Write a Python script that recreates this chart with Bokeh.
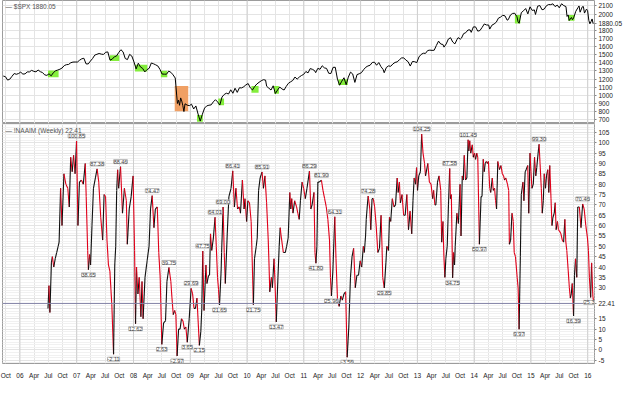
import numpy as np
import pandas as pd
from bokeh.plotting import figure
from bokeh.layouts import column
from bokeh.models import (FixedTicker, Span, Label, LabelSet, ColumnDataSource, Range1d,
                          CustomJSTickFormatter)
from bokeh.core.properties import value
from bokeh.embed import file_html
from bokeh.resources import INLINE

# ---------------- data ----------------
SPX_DATES = [
 "2005-09-16","2005-09-30","2005-10-14","2005-10-28","2005-11-11","2005-11-25","2005-12-09","2005-12-23",
 "2006-01-06","2006-01-20","2006-02-03","2006-02-17","2006-03-03","2006-03-17","2006-03-31","2006-04-14",
 "2006-04-28","2006-05-12","2006-05-26","2006-06-09","2006-06-23","2006-07-07","2006-07-21","2006-08-04",
 "2006-08-18","2006-09-01","2006-09-15","2006-09-29","2006-10-13","2006-10-27","2006-11-10","2006-11-24",
 "2006-12-08","2006-12-22","2007-01-05","2007-01-19","2007-02-02","2007-02-16","2007-03-02","2007-03-16",
 "2007-03-30","2007-04-13","2007-04-27","2007-05-11","2007-05-25","2007-06-08","2007-06-22","2007-07-06",
 "2007-07-20","2007-08-03","2007-08-17","2007-08-31","2007-09-14","2007-09-28","2007-10-12","2007-10-26",
 "2007-11-09","2007-11-23","2007-12-07","2007-12-21","2008-01-04","2008-01-18","2008-02-01","2008-02-15",
 "2008-02-29","2008-03-14","2008-03-28","2008-04-11","2008-04-25","2008-05-09","2008-05-23","2008-06-06",
 "2008-06-20","2008-07-03","2008-07-18","2008-08-01","2008-08-15","2008-08-29","2008-09-12","2008-09-26",
 "2008-10-10","2008-10-17","2008-10-24","2008-10-31","2008-11-07","2008-11-14","2008-11-21","2008-11-28",
 "2008-12-12","2008-12-26","2009-01-09","2009-01-23","2009-02-06","2009-02-20","2009-03-06","2009-03-20",
 "2009-04-03","2009-04-17","2009-05-01","2009-05-15","2009-05-29","2009-06-12","2009-06-26","2009-07-10",
 "2009-07-24","2009-08-07","2009-08-21","2009-09-04","2009-09-18","2009-10-02","2009-10-16","2009-10-30",
 "2009-11-13","2009-11-27","2009-12-11","2009-12-24","2010-01-08","2010-01-22","2010-02-05","2010-02-19",
 "2010-03-05","2010-03-19","2010-04-02","2010-04-16","2010-04-30","2010-05-07","2010-05-21","2010-06-04",
 "2010-06-18","2010-07-02","2010-07-16","2010-07-30","2010-08-13","2010-08-27","2010-09-10","2010-09-24",
 "2010-10-08","2010-10-22","2010-11-05","2010-11-19","2010-12-03","2010-12-17","2010-12-31","2011-01-14",
 "2011-01-28","2011-02-11","2011-02-25","2011-03-11","2011-03-18","2011-04-01","2011-04-15","2011-04-29",
 "2011-05-13","2011-05-27","2011-06-10","2011-06-24","2011-07-08","2011-07-22","2011-08-05","2011-08-19",
 "2011-09-02","2011-09-16","2011-09-30","2011-10-14","2011-10-28","2011-11-11","2011-11-25","2011-12-09",
 "2011-12-23","2012-01-06","2012-01-20","2012-02-03","2012-02-17","2012-03-02","2012-03-16","2012-03-30",
 "2012-04-13","2012-04-27","2012-05-11","2012-05-25","2012-06-01","2012-06-15","2012-06-29","2012-07-13",
 "2012-07-27","2012-08-10","2012-08-24","2012-09-07","2012-09-21","2012-10-05","2012-10-19","2012-11-02",
 "2012-11-16","2012-11-30","2012-12-14","2012-12-28","2013-01-11","2013-01-25","2013-02-08","2013-02-22",
 "2013-03-08","2013-03-22","2013-04-05","2013-04-19","2013-05-03","2013-05-17","2013-05-31","2013-06-14",
 "2013-06-21","2013-07-05","2013-07-19","2013-08-02","2013-08-16","2013-08-30","2013-09-13","2013-09-20",
 "2013-10-04","2013-10-11","2013-10-25","2013-11-08","2013-11-22","2013-12-06","2013-12-13","2013-12-27",
 "2014-01-10","2014-01-24","2014-02-07","2014-02-21","2014-03-07","2014-03-21","2014-04-04","2014-04-11",
 "2014-04-25","2014-05-09","2014-05-23","2014-06-06","2014-06-20","2014-07-03","2014-07-18","2014-08-01",
 "2014-08-08","2014-08-22","2014-09-05","2014-09-19","2014-10-03","2014-10-10","2014-10-17","2014-10-31",
 "2014-11-14","2014-11-28","2014-12-12","2014-12-26","2015-01-09","2015-01-23","2015-01-30","2015-02-13",
 "2015-02-27","2015-03-13","2015-03-27","2015-04-10","2015-04-24","2015-05-08","2015-05-22","2015-06-05",
 "2015-06-19","2015-07-02","2015-07-17","2015-07-31","2015-08-14","2015-08-21","2015-08-28","2015-09-04",
 "2015-09-18","2015-09-25","2015-10-02","2015-10-16","2015-10-30","2015-11-06","2015-11-13","2015-11-27",
 "2015-12-04","2015-12-11","2015-12-24","2015-12-31","2016-01-08","2016-01-15","2016-01-22","2016-01-29",
 "2016-02-05"]
SPX_CLOSE = [
 1237,1229,1187,1199,1234,1268,1259,1268,
 1285,1261,1264,1288,1288,1307,1295,1289,
 1311,1291,1280,1252,1245,1265,1240,1279,
 1302,1311,1321,1336,1366,1377,1380,1401,
 1409,1410,1409,1431,1449,1456,1387,1386,
 1421,1453,1495,1505,1515,1507,1503,1530,
 1534,1433,1445,1474,1484,1527,1561,1535,
 1453,1440,1504,1484,1411,1325,1395,1349,
 1331,1288,1316,1332,1398,1388,1375,1361,
 1318,1262,1260,1260,1298,1283,1252,1213,
 899,940,877,968,930,873,800,896,
 879,873,890,832,869,770,683,768,
 843,870,878,882,919,946,918,880,
 979,1010,1026,1016,1068,1025,1087,1036,
 1093,1091,1106,1127,1145,1092,1066,1109,
 1139,1160,1179,1192,1187,1111,1088,1065,
 1117,1022,1065,1102,1079,1065,1110,1148,
 1166,1183,1225,1199,1225,1244,1258,1293,
 1276,1329,1320,1304,1279,1332,1320,1364,
 1338,1331,1271,1268,1344,1345,1199,1124,
 1174,1216,1131,1224,1285,1263,1159,1255,
 1265,1278,1315,1345,1361,1370,1404,1408,
 1370,1403,1353,1318,1278,1343,1362,1357,
 1386,1405,1411,1438,1460,1461,1433,1414,
 1360,1416,1414,1402,1472,1503,1518,1516,
 1551,1556,1553,1555,1614,1667,1631,1626,
 1593,1632,1692,1709,1656,1633,1688,1710,
 1691,1703,1759,1771,1804,1805,1775,1842,
 1842,1790,1797,1836,1878,1866,1865,1815,
 1863,1878,1900,1950,1963,1985,1978,1925,
 1931,1988,2008,2010,1967,1906,1887,2018,
 2040,2068,2002,2089,2045,2051,1995,2097,
 2105,2053,2061,2102,2117,2116,2126,2092,
 2110,2077,2127,2104,2092,1971,1989,1921,
 1958,1931,1951,2033,2079,2100,2023,2090,
 2092,2012,2061,2044,1922,1880,1907,1940,
 1880.05]

# NAAIM exposure index (time in decimal years)
NAAIM_T = [
 2006.494,2006.511,2006.528,2006.554,2006.571,2006.596,2006.622,2006.647,2006.673,2006.690,
 2006.716,2006.741,2006.775,2006.809,2006.843,2006.869,2006.894,2006.920,2006.945,2006.971,
 2006.997,2007.022,2007.048,2007.082,2007.116,2007.150,2007.167,2007.193,2007.206,2007.227,
 2007.244,2007.269,2007.295,2007.329,2007.359,2007.388,2007.423,2007.457,2007.482,2007.508,
 2007.533,2007.559,2007.584,2007.618,2007.649,2007.670,2007.687,2007.704,2007.721,2007.738,
 2007.772,2007.806,2007.840,2007.874,2007.891,2007.925,2007.959,2007.993,2008.019,2008.036,
 2008.053,2008.078,2008.101,2008.130,2008.150,2008.169,2008.203,2008.240,2008.274,2008.300,
 2008.329,2008.360,2008.385,2008.419,2008.445,2008.470,2008.499,2008.530,2008.564,2008.589,
 2008.624,2008.658,2008.675,2008.700,2008.726,2008.746,2008.768,2008.794,2008.820,2008.845,
 2008.871,2008.896,2008.922,2008.947,2008.981,2009.015,2009.041,2009.066,2009.092,2009.118,
 2009.160,2009.186,2009.203,2009.220,2009.242,2009.276,2009.293,2009.322,2009.339,2009.356,
 2009.378,2009.407,2009.436,2009.458,2009.480,2009.498,2009.515,2009.543,2009.552,2009.578,
 2009.598,2009.617,2009.651,2009.680,2009.718,2009.748,2009.777,2009.804,2009.833,2009.862,
 2009.884,2009.918,2009.947,2009.964,2009.992,2010.015,2010.043,2010.072,2010.089,2010.111,
 2010.131,2010.162,2010.179,2010.203,2010.230,2010.264,2010.288,2010.315,2010.344,2010.373,
 2010.387,2010.400,2010.429,2010.446,2010.475,2010.489,2010.515,2010.544,2010.566,2010.583,
 2010.600,2010.639,2010.673,2010.697,2010.724,2010.753,2010.770,2010.787,2010.809,2010.838,
 2010.872,2010.894,2010.918,2010.940,2010.969,2010.997,2011.026,2011.055,2011.099,2011.123,
 2011.145,2011.179,2011.196,2011.213,2011.230,2011.247,2011.269,2011.310,2011.337,2011.366,
 2011.395,2011.423,2011.452,2011.469,2011.486,2011.511,2011.545,2011.566,2011.593,2011.622,
 2011.651,2011.678,2011.707,2011.736,2011.763,2011.792,2011.821,2011.849,2011.877,2011.906,
 2011.934,2011.963,2011.992,2012.019,2012.048,2012.065,2012.087,2012.099,2012.116,2012.133,
 2012.162,2012.179,2012.201,2012.223,2012.247,2012.274,2012.303,2012.332,2012.360,2012.377,
 2012.389,2012.417,2012.445,2012.462,2012.491,2012.508,2012.530,2012.558,2012.588,2012.615,
 2012.644,2012.661,2012.683,2012.700,2012.729,2012.758,2012.785,2012.814,2012.843,2012.871,
 2012.900,2012.922,2012.943,2012.968,2012.985,2013.002,2013.024,2013.053,2013.075,2013.099,
 2013.126,2013.143,2013.184,2013.211,2013.240,2013.269,2013.286,2013.308,2013.325,2013.354,
 2013.381,2013.411,2013.428,2013.450,2013.467,2013.484,2013.501,2013.525,2013.547,2013.569,
 2013.581,2013.598,2013.620,2013.637,2013.654,2013.666,2013.695,2013.722,2013.751,2013.768,
 2013.790,2013.808,2013.825,2013.848,2013.871,2013.893,2013.905,2013.922,2013.939,2013.967,
 2013.984,2014.007,2014.024,2014.046,2014.063,2014.092,2014.121,2014.138,2014.160,2014.177,
 2014.194,2014.216,2014.234,2014.251,2014.274,2014.291,2014.319,2014.336,2014.359,2014.377,
 2014.394,2014.416,2014.445,2014.472,2014.496,2014.518,2014.535,2014.557,2014.586,2014.608,
 2014.620,2014.642,2014.666,2014.688,2014.705,2014.727,2014.757,2014.774,2014.791,2014.813,
 2014.830,2014.859,2014.876,2014.898,2014.915,2014.944,2014.961,2014.983,2015.000,2015.017,
 2015.041,2015.063,2015.085,2015.102,2015.126,2015.143,2015.160,2015.182,2015.199,2015.217,
 2015.234,2015.256,2015.273,2015.297,2015.314,2015.331,2015.353,2015.370,2015.387,2015.410,
 2015.427,2015.443,2015.467,2015.484,2015.511,2015.528,2015.552,2015.575,2015.597,2015.614,
 2015.631,2015.654,2015.676,2015.693,2015.710,2015.727,2015.750,2015.767,2015.784,2015.807,
 2015.824,2015.852,2015.881,2015.910,2015.937,2015.966,2015.995,2016.012,2016.029,2016.051,
 2016.068,2016.090,2016.107]
NAAIM_V = [
 20,31,18,42,45,40,44,47,50,52,
 78,60,85,80,78,69,93,86,94,85,
 100.85,60,81,82,80,90,74,48,38.65,46,
 41,60,78,83,87.38,81,64,53,75,74,
 53,41,38,22,-2.11,41,50,77,87,78,
 88.46,66,78,72,51,68,74,84,48,12.62,
 40,27,35,16,33,15,35,43,50,68,
 74.47,59,68,69,47,35,2.63,13,14,33,
 39.75,33,26,17,19,17,-2.97,10,10,15,
 14,10,11,3.65,15,29.69,27,20,20,25,
 2.15,9,20,47.75,19,41,32,36,36,56,
 48,54,64.01,50,35,29,21.65,38,47,69.00,
 47,32,56,74,78,86.41,69,78,68,69,
 66,82,68,73,62,72,71,62,45,21.75,
 44,50,54,77,83,85.91,78,84,71,53,
 41,28,35,30,44,35,13.47,35,50,59,
 55,47,47,50,54,76,68,73,66,72,
 69,66,63,72,81,78,73,78,86.29,68,
 70,76,47,41.80,50,81,81,81.90,77,73,
 69,63,53,35,25.96,38,64.31,44,24,21,
 26,24,27,28,-3.56,11,35,45,49,30,
 36,36,43,40,50,47,55,63,69,74.28,
 68,58,73,73,69,60,47,49,65,50,
 35,29.85,42,50,48,64,62,73,69,70,
 83,76,81,71,75,65,65,75,58,67,
 56,72,83,80,88,77,84,86,104.25,95,
 90,84,90,81,80,73,77,70,70,81,
 84,77,52,62,45,35,44,50,70,87.58,
 73,75,34.75,47,41,50,66,61,80,55,
 84,82,94,82,83,101.45,96,101,95,99,
 93,95,92,95,93,50.97,74,74,92,86,
 90,91,90,91,78,76,83,77,78,72,
 68,91,87,89,85,84,82,83,80,77,
 51,53,66,62,47,45,35,30,9.97,45,
 75,81,72,86,87,89,66,95,86,78,
 80,93,84,88,95,99.30,90,78,66,72,
 85,78,84,87,76,89,73,60,64,66,
 71,58,62,58,57,56,53,52,63,52,
 48,39,30,25,27,32,16.39,36,44,35,
 69,69,59,70.46,68,60,54,48,35,25.32,
 42,26,22.41]

PEAK_T = [2006.997,2007.359,2007.772,2008.329,2008.624,2009.015,2009.220,2009.436,2009.578,2009.748,
          2010.264,2011.099,2011.310,2011.545,2012.133,2013.075,2013.569,2013.893,2015.143,2015.910]
PEAK_V = [100.85,87.38,88.46,74.47,39.75,29.69,47.75,64.01,69.00,86.41,
          85.91,86.29,81.90,64.31,74.28,104.25,87.58,101.45,99.30,70.46]
TROUGH_T = [2007.206,2007.649,2008.036,2008.499,2008.768,2008.947,2009.160,2009.515,2010.111,2010.515,
            2011.213,2011.486,2011.763,2012.417,2013.620,2014.092,2014.791,2015.750,2016.051]
TROUGH_V = [38.65,-2.11,12.62,2.63,-2.97,3.65,2.15,21.65,21.75,13.47,
            41.80,25.96,-3.56,29.85,34.75,50.97,9.97,16.39,25.32]

# highlighted periods on the S&P panel (decimal years, price band)
BOX_START = [2006.494,2007.584,2008.027,2008.482,2008.726,2009.118,2009.493,2010.077,2010.476,2011.605,2014.717,2015.654]
BOX_END   = [2006.681,2007.750,2008.244,2008.595,2008.964,2009.220,2009.595,2010.203,2010.561,2011.775,2014.812,2015.767]
BOX_LOW   = [1221,1422,1292,1221,803,676,877,1031,1020,1126,1883,1919]
BOX_HIGH  = [1304,1493,1375,1303,1114,759,960,1114,1114,1197,1990,1990]
BOX_KIND  = ["g","g","g","g","o","g","g","g","g","g","g","g"]

SPX_TICKS = list(range(700, 2101, 100))
NAAIM_TICKS = list(range(-5, 106, 5))
LAST_SPX = 1880.05
LAST_NAAIM = 22.41
SPX_NAME = "$SPX"
NAAIM_NAME = "!NAAIM (Weekly)"

# ---------------- helpers ----------------
def dec_year(dates):
    d = pd.to_datetime(pd.Series(dates))
    start = pd.to_datetime(d.dt.year.astype(str) + "-01-01")
    ndays = np.where(d.dt.is_leap_year, 366.0, 365.0)
    return (d.dt.year + (d - start).dt.days / ndays).to_numpy()

FONT = "Liberation Sans"
X0, X1 = 2005.693, 2016.119
xr = Range1d(X0, X1)
QTICKS = [float(v) for v in np.arange(2005.75, 2016.01, 0.25)]
YEARS = [float(y) for y in range(2006, 2017)]
MONTHS = {0.25: "Apr", 0.5: "Jul", 0.75: "Oct"}
def qlabel(t):
    frac = round(t - np.floor(t), 2)
    if frac == 0:
        return "%02d" % (int(round(t)) % 100)
    return MONTHS[frac]
OVERRIDES = {t: qlabel(t) for t in QTICKS}

def last_formatter(last):
    return CustomJSTickFormatter(code=(
        "return Math.abs(tick - %r) < 1e-6 ? tick.toFixed(2) : tick.toFixed(0);" % last))

def style(p, yticks, last, hide):
    p.outline_line_color = "#9c9c9c"
    p.background_fill_color = "white"
    p.border_fill_color = "white"
    p.xgrid.ticker = FixedTicker(ticks=QTICKS)
    p.xgrid.grid_line_color = "#e4e4e4"
    p.ygrid.ticker = FixedTicker(ticks=yticks)
    p.ygrid.grid_line_color = "#e4e4e4"
    ax = p.yaxis[0]
    ax.ticker = FixedTicker(ticks=sorted([t for t in yticks if t not in hide] + [last]))
    ax.formatter = last_formatter(last)
    ax.axis_line_color = None
    ax.major_tick_line_color = "#888888"
    ax.major_tick_in = 0
    ax.major_tick_out = 2
    ax.minor_tick_line_color = None
    ax.major_label_standoff = 2
    ax.major_label_text_font = FONT
    ax.major_label_text_font_size = "6.5px"
    ax.major_label_text_color = "#222222"
    for yr in YEARS:
        p.add_layout(Span(location=yr, dimension="height", line_color="#cfcfcf",
                          line_width=1, level="underlay"))

# ---------------- top: S&P 500 ----------------
p1 = figure(width=624, height=123, x_range=xr, y_range=Range1d(653, 2167),
            x_axis_location=None, y_axis_location="right",
            output_backend="svg", toolbar_location=None,
            min_border_left=2, min_border_right=26, min_border_top=0, min_border_bottom=0)
style(p1, SPX_TICKS, LAST_SPX, hide=[1900])

boxes = ColumnDataSource(dict(
    left=BOX_START, right=BOX_END, bottom=BOX_LOW, top=BOX_HIGH,
    color=["#f0a064" if k == "o" else "#84ee3c" for k in BOX_KIND]))
p1.quad(left="left", right="right", bottom="bottom", top="top", source=boxes,
        fill_color="color", line_color=None)
p1.line(dec_year(SPX_DATES), SPX_CLOSE, line_color="black", line_width=1)

p1.add_layout(Label(x=X0, y=2167, x_offset=3, y_offset=-2, text="— %s %.2f" % (SPX_NAME, LAST_SPX),
                    text_baseline="top", text_font=FONT, text_font_size="6.5px",
                    text_color="#555555"))

# ---------------- bottom: NAAIM ----------------
p2 = figure(width=624, height=258, x_range=xr, y_range=Range1d(-6.6, 109.3),
            y_axis_location="right", output_backend="svg", toolbar_location=None,
            min_border_left=2, min_border_right=26, min_border_top=0, min_border_bottom=0)
style(p2, NAAIM_TICKS, LAST_NAAIM, hide=[20, 25])
p2.ygrid.minor_grid_line_color = "#f1f1f1"
p2.ygrid.ticker = FixedTicker(ticks=NAAIM_TICKS, minor_ticks=list(np.arange(-6.25, 110, 1.25)))

xa = p2.xaxis[0]
xa.ticker = FixedTicker(ticks=QTICKS)
xa.major_label_overrides = OVERRIDES
xa.axis_line_color = None
xa.major_tick_line_color = None
xa.minor_tick_line_color = None
xa.major_label_standoff = 2
xa.major_label_text_font = FONT
xa.major_label_text_font_size = "6.5px"
xa.major_label_text_color = "#222222"

p2.add_layout(Span(location=LAST_NAAIM, dimension="width", line_color="#8282a6", line_width=1))

nt = np.array(NAAIM_T)
nv = np.array(NAAIM_V, dtype=float)
seg = ColumnDataSource(dict(x0=nt[:-1], y0=nv[:-1], x1=nt[1:], y1=nv[1:],
                            c=np.where(nv[1:] < nv[:-1], "#e0001a", "#111111")))
p2.segment(x0="x0", y0="y0", x1="x1", y1="y1", line_color="c", line_width=1.1, source=seg)

lab_common = dict(text_font=value(FONT), text_font_size="5.5px", text_color="#444444",
                  text_align="center", background_fill_color="white",
                  border_line_color="#b5b5b5")
peaks = ColumnDataSource(dict(x=PEAK_T, y=PEAK_V, t=["%.2f" % v for v in PEAK_V]))
troughs = ColumnDataSource(dict(x=TROUGH_T, y=TROUGH_V, t=["%.2f" % v for v in TROUGH_V]))
p2.add_layout(LabelSet(x="x", y="y", text="t", source=peaks, y_offset=3,
                       text_baseline="bottom", **lab_common))
p2.add_layout(LabelSet(x="x", y="y", text="t", source=troughs, y_offset=-3,
                       text_baseline="top", **lab_common))

p2.add_layout(Label(x=X0, y=109.3, x_offset=3, y_offset=-3, text="— %s %.2f" % (NAAIM_NAME, LAST_NAAIM),
                    text_baseline="top", text_font=FONT, text_font_size="6.5px",
                    text_color="#555555"))

layout = column(p1, p2)
open("out.html", "w").write(file_html(layout, INLINE))
